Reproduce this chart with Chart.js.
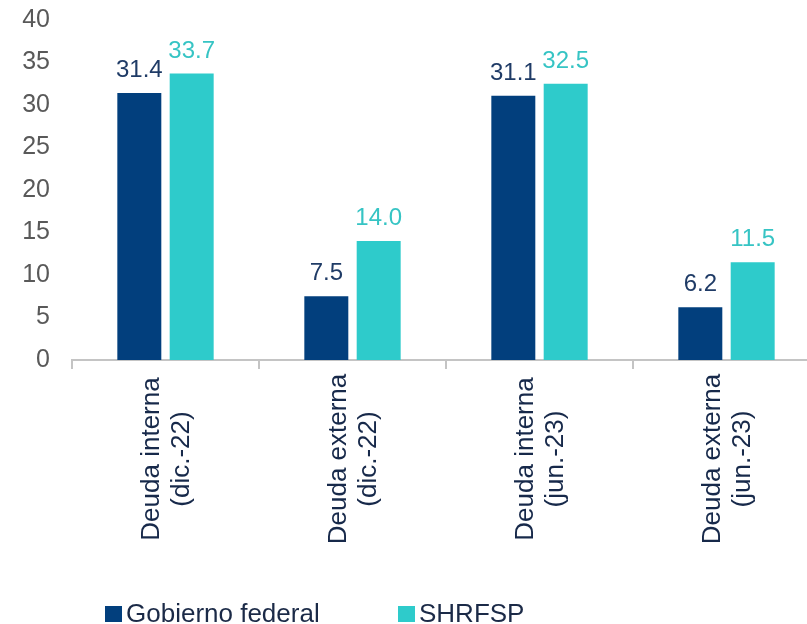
<!DOCTYPE html>
<html>
<head>
<meta charset="utf-8">
<script src="https://cdn.jsdelivr.net/npm/chart.js@4.4.0/dist/chart.umd.min.js"></script>
<style>
  html, body { margin: 0; padding: 0; background: #fff; overflow: hidden; }
  #wrap { position: relative; width: 822px; height: 624px; }
  .legend { position: absolute; top: 600px; font: 26px "Liberation Sans", Arial, sans-serif; line-height: 1; color: #1b2a47; white-space: nowrap; }
  .legend span.box { display: inline-block; width: 17px; height: 16px; margin-right: 4px; vertical-align: baseline; }
</style>
</head>
<body>
<div id="wrap">
  <canvas id="debtChart" width="822" height="624"></canvas>
  <div class="legend" style="left:105px"><span class="box" style="background:#023f7d"></span>Gobierno federal</div>
  <div class="legend" style="left:398px"><span class="box" style="background:#2ecbcb"></span>SHRFSP</div>
</div>
<script>
// categories: [line 1, line 2]
const categories = [
    ['Deuda interna', '(dic.-22)'],
    ['Deuda externa', '(dic.-22)'],
    ['Deuda interna', '(jun.-23)'],
    ['Deuda externa', '(jun.-23)']
];
const gobiernoFederal = [31.4, 7.5, 31.1, 6.2];
const shrfsp = [33.7, 14.0, 32.5, 11.5];
const yTicks = [0, 5, 10, 15, 20, 25, 30, 35, 40];

const navy = '#023f7d';
const teal = '#2ecbcb';

// values printed above each bar
const barValues = {
    id: 'barValues',
    afterDatasetsDraw(chart) {
        const ctx = chart.ctx;
        const labelColors = ['#1f3b66', '#36c4c4'];
        ctx.save();
        ctx.font = '24px "Liberation Sans", Arial, sans-serif';
        ctx.textAlign = 'center';
        ctx.textBaseline = 'alphabetic';
        chart.data.datasets.forEach((ds, i) => {
            chart.getDatasetMeta(i).data.forEach((bar, j) => {
                ctx.fillStyle = labelColors[i];
                ctx.fillText(ds.data[j].toFixed(1), bar.x, bar.y - 16);
            });
        });
        ctx.restore();
    }
};

// two-line rotated category labels, lines centred on each other
const categoryLabels = {
    id: 'categoryLabels',
    afterDraw(chart) {
        const ctx = chart.ctx;
        const xScale = chart.scales.x;
        ctx.save();
        ctx.font = '26px "Liberation Sans", Arial, sans-serif';
        ctx.fillStyle = '#17294a';
        ctx.textAlign = 'center';
        ctx.textBaseline = 'middle';
        categories.forEach((lines, i) => {
            const x = xScale.getPixelForValue(i);
            lines.forEach((line, k) => {
                ctx.save();
                ctx.translate(x - 14 + k * 30, 459);
                ctx.rotate(-Math.PI / 2);
                ctx.fillText(line, 0, 0);
                ctx.restore();
            });
        });
        ctx.restore();
    }
};

const ctx = document.getElementById('debtChart').getContext('2d');
new Chart(ctx, {
    type: 'bar',
    data: {
        labels: categories.map(c => c.join(' ')),
        datasets: [
            {
                label: 'Gobierno federal',
                data: gobiernoFederal,
                backgroundColor: navy,
                categoryPercentage: 0.56,
                barPercentage: 0.84
            },
            {
                label: 'SHRFSP',
                data: shrfsp,
                backgroundColor: teal,
                categoryPercentage: 0.56,
                barPercentage: 0.84
            }
        ]
    },
    options: {
        responsive: false,
        animation: false,
        layout: {
            padding: { top: 20, right: 2, bottom: 0, left: 0 }
        },
        plugins: {
            legend: { display: false },
            tooltip: { enabled: false }
        },
        scales: {
            x: {
                grid: {
                    display: true,
                    drawOnChartArea: false,
                    offset: true,
                    tickLength: 9,
                    color: '#c4c4c4',
                    lineWidth: 2
                },
                border: { display: true, color: '#c4c4c4', width: 2 },
                ticks: { display: false },
                afterFit: scale => { scale.height = 264; }
            },
            y: {
                min: 0,
                max: 40,
                afterBuildTicks: scale => { scale.ticks = yTicks.map(v => ({ value: v })); },
                grid: { display: false, drawTicks: false },
                border: { display: false },
                ticks: {
                    padding: 22,
                    color: '#595959',
                    font: { family: '"Liberation Sans", Arial, sans-serif', size: 25 }
                },
                afterFit: scale => {
                    scale.width = 72;
                    scale.paddingTop = 0;
                    scale.paddingBottom = 0;
                }
            }
        }
    },
    plugins: [barValues, categoryLabels]
});
</script>
</body>
</html>
